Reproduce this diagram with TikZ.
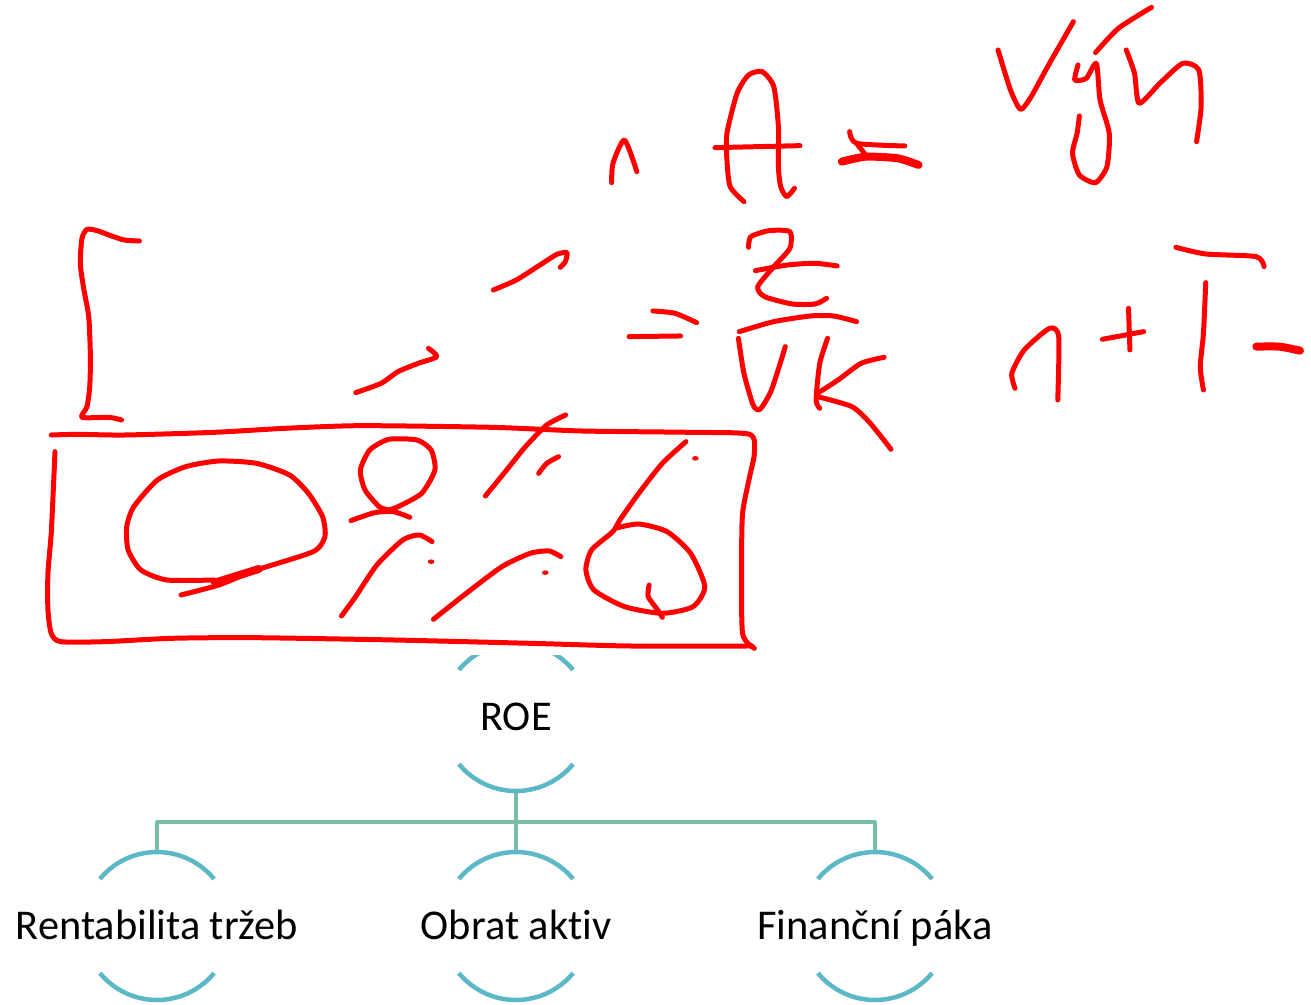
\documentclass[tikz,border=0pt]{standalone}
\usepackage{fontspec}
\setmainfont[Ligatures=NoCommon]{Carlito}
\definecolor{arcblue}{HTML}{5CB8C6}
\definecolor{linkgreen}{HTML}{78BDA8}
\definecolor{inkred}{HTML}{FF0000}
\tikzset{
  x=1pt,y=1pt,
  idea/.style={circle,minimum size=148pt,inner sep=0pt,text height=34pt,text depth=7pt,font=\fontsize{42.4}{48}\selectfont,text=black},
  arcline/.style={draw=arcblue,line width=4.5pt},
  link/.style={draw=linkgreen,line width=4.5pt,line join=round},
  ink/.style={draw=inkred,line width=5pt,line cap=round,line join=round},
  thick ink/.style={ink,line width=8pt},
}
\newcommand{\stroke}[2][ink]{\draw[#1] plot[smooth,tension=0.4] coordinates {#2};}
\newcommand{\lbl}[1]{\makebox[0pt]{#1}}
\begin{document}
\begin{tikzpicture}
\useasboundingbox (0,-1004) rectangle (1311,0);
% SmartArt nodes
\node[idea] (roe) at (516,-717) {\lbl{ROE}};
\node[idea] (rent) at (157,-926) {\lbl{Rentabilita tržeb}};
\node[idea] (obrat) at (516,-926) {\lbl{Obrat aktiv}};
\node[idea] (paka) at (875,-926) {\lbl{Finanční páka}};
\coordinate (bus) at (516,-822);
% connectors
\draw[link] (roe.south) -- (bus);
\draw[link] (bus) -| (rent.north);
\draw[link] (bus) -- (obrat.north);
\draw[link] (bus) -| (paka.north);
% arcs
\foreach \n in {rent,obrat,paka}{
  \draw[arcline] (\n.center) ++(39.5:74) arc (39.5:140.5:74);
  \draw[arcline] (\n.center) ++(-39.5:74) arc (-39.5:-140.5:74);
}
\draw[arcline] (roe.center) ++(-39.5:74) arc (-39.5:-140.5:74);
\begin{scope}
  \clip (400,-655) rectangle (640,-700);
  \draw[arcline] (roe.center) ++(39.5:74) arc (39.5:140.5:74);
\end{scope}
% handwriting: box and marks
\begin{scope}[shift={(30,-400)},xscale=0.4719,yscale=-0.3333]
  \stroke{(45,105)(100,103)(200,105)(390,97)(540,85)(700,77)(980,82)(1170,93)(1400,97)(1525,103)(1535,160)(1525,230)(1510,340)(1508,490)(1510,700)(1535,745)}
  \stroke{(53,155)(50,250)(45,400)(38,520)(38,630)(45,700)(65,725)(160,725)(300,715)(470,713)(770,720)(1060,730)(1270,738)(1530,738)}
  \stroke{(320,585)(400,555)(480,510)(600,455)(625,410)(620,350)(590,280)(550,225)(480,190)(400,183)(330,200)(270,240)(220,320)(205,380)(208,450)(235,510)(290,540)(390,540)}
  \stroke[thick ink]{(392,548)(485,507)}
  \stroke{(680,362)(730,338)(770,335)(805,352)}
  \stroke{(760,330)(780,320)(830,280)(858,210)(850,150)(820,120)(760,118)(720,150)(700,210)(710,270)(740,320)(760,330)}
  \stroke{(965,288)(1010,210)(1050,140)(1095,75)(1135,45)}
  \stroke{(1078,220)(1095,190)(1120,170)}
  \stroke{(1390,125)(1340,190)(1290,280)(1250,360)(1235,395)(1190,450)(1178,510)(1195,570)(1260,620)(1340,640)(1405,620)(1430,560)(1400,460)(1350,395)(1290,372)(1240,385)}
  \stroke{(1312,555)(1310,590)(1330,630)(1340,652)}
  \stroke{(660,648)(690,590)(735,495)(790,420)(825,405)(852,425)}
  \stroke{(855,658)(920,585)(1000,500)(1060,460)(1100,453)(1125,470)}
  \fill[inkred] (1410,175) circle (7);
  \fill[inkred] (850,485) circle (7);
  \fill[inkred] (1092,518) circle (7);
\end{scope}
% handwriting: formula
\begin{scope}[shift={(590,0)},xscale=0.4595,yscale=-0.3333]
  \stroke{(47,548)(50,490)(75,420)(102,515)}
  \stroke{(335,605)(305,560)(298,480)(298,400)(320,280)(345,225)(375,215)(400,260)(410,380)(410,500)(415,560)(428,590)(445,565)}
  \stroke{(272,443)(457,437)}
  \stroke{(565,395)(580,430)(685,438)}
  \stroke{(580,430)(600,465)}
  \stroke[thick ink]{(548,485)(600,470)(670,475)(715,495)}
  \stroke{(888,150)(915,270)(937,328)(960,290)(1000,190)(1052,65)}
  \stroke{(1062,195)(1055,240)(1080,235)(1102,190)(1110,300)(1130,400)(1125,500)(1100,548)(1065,525)(1050,460)(1060,400)(1065,348)}
  \stroke{(1100,158)(1150,85)(1222,22)}
  \stroke{(1167,150)(1185,220)(1195,310)(1240,250)(1290,190)(1325,210)(1330,320)(1320,425)}
  \stroke{(345,742)(350,710)(390,692)(435,695)(435,745)(400,800)(365,860)(380,890)(440,912)(490,912)(515,895)}
  \stroke{(360,812)(430,795)(490,790)(538,798)}
  \stroke{(325,995)(400,965)(480,948)(530,948)(580,965)}
  \stroke{(137,933)(185,940)(232,968)}
  \stroke{(85,1010)(197,1008)}
  \stroke{(323,1015)(335,1120)(355,1215)(370,1228)(395,1170)(425,1040)}
  \stroke{(517,1015)(500,1090)(492,1200)(500,1225)}
  \stroke{(640,1072)(590,1090)(540,1140)(495,1180)}
  \stroke{(495,1190)(570,1220)(610,1270)(655,1348)}
  \stroke{(925,1165)(918,1120)(945,1050)(1000,985)(1020,1010)(1018,1200)}
  \stroke{(1115,1018)(1205,995)}
  \stroke{(1172,925)(1175,1050)}
  \stroke{(1275,742)(1340,762)(1450,770)(1467,800)}
  \stroke{(1340,848)(1335,1000)(1328,1100)(1335,1170)}
  \stroke[thick ink]{(1450,1040)(1500,1040)(1545,1052)}
\end{scope}
% handwriting: bracket and dashes
\begin{scope}[shift={(60,-220)},xscale=0.338,yscale=-0.3333]
  \stroke{(235,63)(190,60)(150,47)(110,32)(80,28)(65,55)(60,130)(70,205)(85,290)(90,410)(88,500)(80,560)(65,592)(145,592)(182,600)}
  \stroke{(1282,210)(1350,180)(1420,135)(1470,103)(1500,98)(1495,125)(1480,142)}
  \stroke{(875,518)(950,490)(1000,455)(1060,430)(1115,410)(1090,385)}
\end{scope}
\end{tikzpicture}
\end{document}
